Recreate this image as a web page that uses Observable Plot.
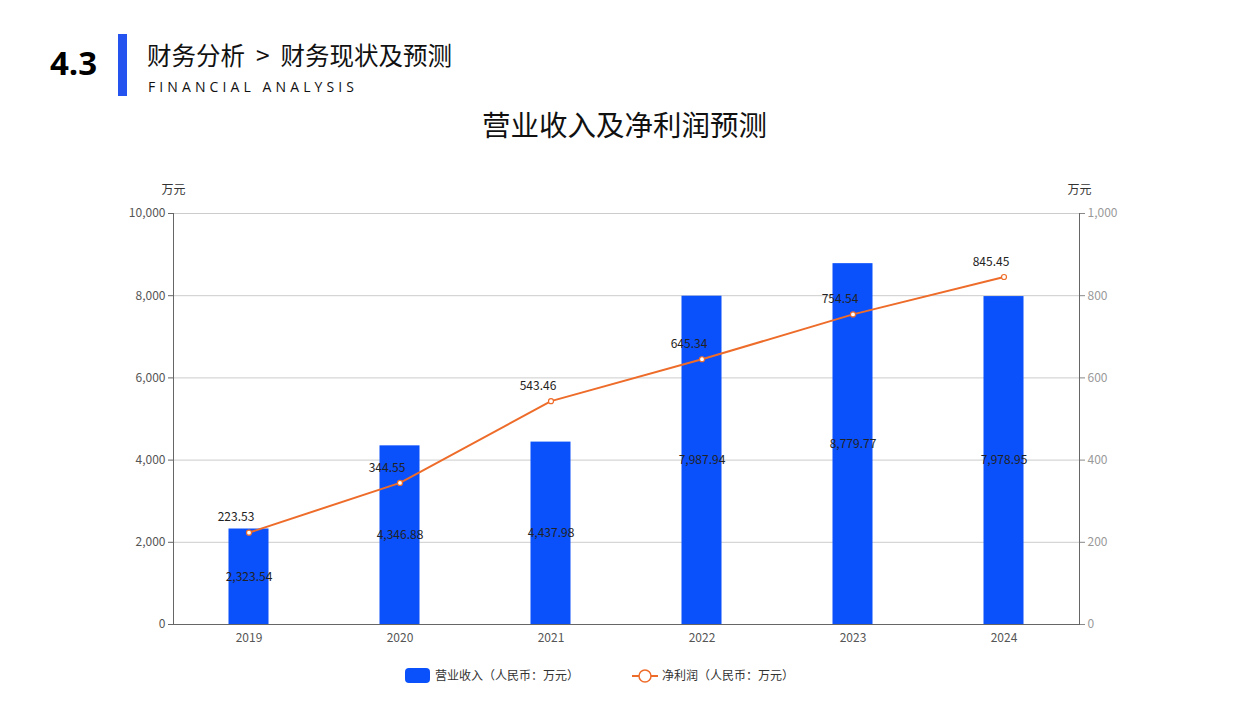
<!DOCTYPE html>
<html><head><meta charset="utf-8">
<script src="https://cdn.jsdelivr.net/npm/d3@7"></script>
<script src="https://cdn.jsdelivr.net/npm/@observablehq/plot@0.6"></script>
<style>
body{margin:0;background:#fff;font-family:"Noto Sans CJK SC","Noto Sans",sans-serif;width:1259px;height:707px;position:relative;overflow:hidden}
.abs{position:absolute;white-space:nowrap}
</style></head><body>
<div class="abs" style="left:50px;top:40px;font-size:33px;font-weight:bold;color:#000;font-family:'Open Sans','Noto Sans',sans-serif;">4.3</div>
<div class="abs" style="left:118px;top:34px;width:9px;height:62px;background:#2453f0"></div>
<div class="abs" style="left:147px;top:37px;font-size:24.5px;color:#111;">财务分析<span style="margin:0 11px">&gt;</span>财务现状及预测</div>
<div class="abs" style="left:148px;top:77px;font-size:14px;letter-spacing:4.1px;color:#111;font-family:'Open Sans','Noto Sans',sans-serif;">FINANCIAL ANALYSIS</div>
<div class="abs" style="left:0;width:1259px;top:103px;text-align:center;font-size:28.5px;color:#111;"><span style="margin-left:-10px">营业收入及净利润预测</span></div>
<div id="chart" class="abs" style="left:0;top:180px;"></div>
<div class="abs" style="left:405px;top:668px;width:25px;height:15px;border-radius:4px;background:#0a50fb"></div>
<div class="abs" style="left:435px;top:666px;font-size:12px;color:#333;">营业收入（人民币：万元）</div>
<svg class="abs" style="left:630px;top:666px" width="30" height="20"><line x1="2" x2="28" y1="10" y2="10" stroke="#ee6c2a" stroke-width="2"/><circle cx="15" cy="10" r="6" fill="#fff" stroke="#ee6c2a" stroke-width="1.5"/></svg>
<div class="abs" style="left:662px;top:666px;font-size:12px;color:#333;">净利润（人民币：万元）</div>
<script>
const years = ["2019","2020","2021","2022","2023","2024"];
const revenue = [2323.54, 4346.88, 4437.98, 7987.94, 8779.77, 7978.95];
const profit = [223.53, 344.55, 543.46, 645.34, 754.54, 845.45];
const leftTicks = [0, 2000, 4000, 6000, 8000, 10000];
const rightTicks = [0, 200, 400, 600, 800, 1000];

const rows = years.map((y, i) => ({year: y, revenue: revenue[i], profit: profit[i]}));
const fmt = d3.format(",.2f");
const fmtInt = d3.format(",");
const ratio = 10; // left scale / right scale

const chart = Plot.plot({
  width: 1259,
  height: 480,
  marginTop: 33,
  marginBottom: 36,
  marginLeft: 173,
  marginRight: 180,
  style: {fontFamily: "'Noto Sans CJK SC','Noto Sans',sans-serif", fontSize: "12px", background: "transparent"},
  x: {domain: years, padding: 0, label: null},
  y: {domain: [0, 10000], label: null},
  marks: [
    Plot.gridY(leftTicks.filter(d => d > 0), {stroke: "#cccccc", strokeOpacity: 1}),
    Plot.barY(rows, {x: "year", y: "revenue", fill: "#0a50fb", insetLeft: 55.5, insetRight: 55.5}),
    Plot.text(rows, {x: "year", y: d => d.revenue / 2, text: d => fmt(d.revenue), fill: "#222", fontSize: 12}),
    Plot.lineY(rows, {x: "year", y: d => d.profit * ratio, stroke: "#ee6c2a", strokeWidth: 2}),
    Plot.dot(rows, {x: "year", y: d => d.profit * ratio, r: 2.5, fill: "#fff", stroke: "#ee6c2a", strokeWidth: 1.2}),
    Plot.text(rows, {x: "year", y: d => d.profit * ratio, text: d => fmt(d.profit), dx: -13, dy: -15, fill: "#222", fontSize: 12}),
    Plot.axisX({tickSize: 0, tickPadding: 9, fill: "#555", fontSize: 12}),
    Plot.ruleY([0], {stroke: "#666"}),
    Plot.axisY({anchor: "left", ticks: leftTicks, tickFormat: d => fmtInt(d), tickSize: 5, tickPadding: 3, stroke: "#666", fill: "#555", fontSize: 12}),
    Plot.axisY({anchor: "right", ticks: rightTicks.map(d => d * ratio), tickFormat: d => fmtInt(d / ratio), tickSize: 5, tickPadding: 3, stroke: "#888", fill: "#999", fontSize: 12}),
    Plot.frame({anchor: "left", stroke: "#666"}),
    Plot.frame({anchor: "right", stroke: "#666"}),
    Plot.text(["万元"], {frameAnchor: "top-left", dy: -28, textAnchor: "middle", fill: "#333", fontSize: 12}),
    Plot.text(["万元"], {frameAnchor: "top-right", dy: -28, textAnchor: "middle", fill: "#333", fontSize: 12})
  ]
});
document.getElementById("chart").appendChild(chart);
</script>
</body></html>
